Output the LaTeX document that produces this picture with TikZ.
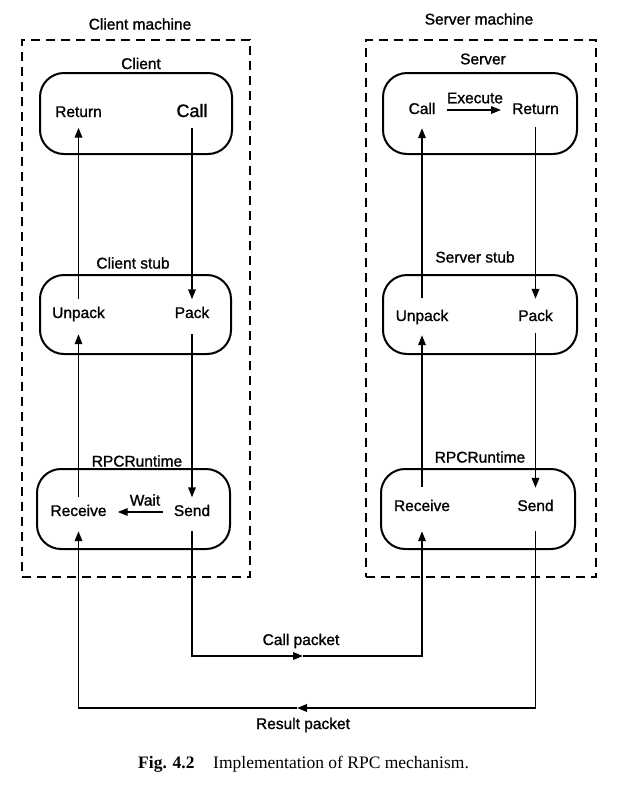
\documentclass[tikz,border=0pt]{standalone}
\usepackage{fontspec}
\setmainfont{Liberation Sans}[FakeBold=1.2]
\newfontfamily\capfont{Liberation Serif}
\usetikzlibrary{arrows.meta}
\begin{document}
\begin{tikzpicture}[x=1pt,y=-1pt,
  lbl/.style={font=\fontsize{15.5}{17}\selectfont, inner xsep=11pt, inner ysep=7.5pt, text height=11pt, text depth=3pt},
  ttl/.style={font=\fontsize{15.5}{17}\selectfont, inner sep=1pt},
  rbox/.style={draw, line width=2pt, rounded corners=24pt, inner sep=0pt},
  mach/.style={draw, line width=2pt, dash pattern=on 9pt off 6pt, inner sep=0pt},
  arr/.style={line width=1.8pt, -{Triangle[length=10pt,width=7.5pt]}},
  lin/.style={line width=1.8pt}]
\useasboundingbox (0,0) rectangle (635,793);

% machines
\node[mach, minimum width=228pt, minimum height=537pt] (cmach) at (136,308.5) {};
\node[mach, minimum width=230pt, minimum height=537pt] (smach) at (481,308.5) {};
\node[ttl] (cmacht) at (140,24) {Client machine};
\node[ttl] (smacht) at (479,19) {Server machine};

% client side boxes
\node[rbox, minimum width=192pt, minimum height=81pt] (cbox) at (136,113.5) {};
\node[rbox, minimum width=191pt, minimum height=79pt] (cstub) at (135.5,314.5) {};
\node[rbox, minimum width=193pt, minimum height=80pt] (crt) at (133.5,509) {};
\node[ttl] (cboxt) at (141,63.5) {Client};
\node[ttl] (cstubt) at (133,263) {Client stub};
\node[ttl] (crtt) at (137,461) {RPCRuntime};

% server side boxes
\node[rbox, minimum width=194pt, minimum height=81pt] (sbox) at (480,113.5) {};
\node[rbox, minimum width=194pt, minimum height=79pt] (sstub) at (480,314.5) {};
\node[rbox, minimum width=194pt, minimum height=80pt] (srt) at (478,509) {};
\node[ttl] (sboxt) at (483,59) {Server};
\node[ttl] (sstubt) at (475,257) {Server stub};
\node[ttl] (srtt) at (480,457) {RPCRuntime};

% client texts
\node[lbl] (retC) at (78.5,113) {Return};
\node[lbl, font=\fontsize{18}{20}\selectfont] (callC) at (192,113) {Call};
\node[lbl] (unpC) at (78.5,314) {Unpack};
\node[lbl] (packC) at (192,314) {Pack};
\node[lbl] (recvC) at (78.5,512) {Receive};
\node[lbl] (sendC) at (192,512) {Send};
\node[ttl] (waitt) at (145,500) {Wait};

% server texts
\node[lbl] (callS) at (422,110) {Call};
\node[lbl] (retS) at (535.5,110) {Return};
\node[ttl] (exect) at (475,98) {Execute};
\node[lbl] (unpS) at (422,317) {Unpack};
\node[lbl] (packS) at (535.5,317) {Pack};
\node[lbl] (recvS) at (422,507) {Receive};
\node[lbl] (sendS) at (535.5,507) {Send};

% client arrows
\draw[arr] (unpC.north) -- (retC.south);
\draw[arr] (callC.south) -- (packC.north);
\draw[arr, shorten >=5.5pt] (recvC.north) -- (unpC.south);
\draw[arr, shorten <=5.5pt] (packC.south) -- (sendC.north);
\draw[arr] (sendC) -- (recvC);

% server arrows
\draw[arr] (callS) -- (retS);
\draw[arr, shorten <=4.5pt, shorten >=3.5pt] (unpS.north) -- (callS.south);
\draw[arr, shorten <=2.5pt, shorten >=3.5pt] (retS.south) -- (packS.north);
\draw[arr, shorten <=5.5pt, shorten >=3.5pt] (recvS.north) -- (unpS.south);
\draw[arr, shorten <=1.5pt, shorten >=4.5pt] (packS.south) -- (sendS.north);

% packets
\coordinate (cpkt) at (303,656);
\coordinate (rpkt) at (297,708);
\draw[arr, shorten <=4.5pt] (sendC.south) |- (cpkt);
\draw[arr, shorten >=9.5pt] (cpkt) -| (recvS.south);
\draw[arr, shorten <=9.5pt] (sendS.south) |- (rpkt);
\draw[arr, shorten >=4.5pt] (rpkt) -| (recvC.south);
\node[ttl] (cpktt) at (301,641) {Call packet};
\node[ttl] (rpktt) at (303,725) {Result packet};

% caption
\node[anchor=base west, inner sep=0pt, font=\capfont\bfseries\fontsize{17.5}{20}\selectfont] (figno) at (138,768) {Fig. 4.2};
\node[anchor=base west, inner sep=0pt, font=\capfont\fontsize{17.5}{20}\selectfont] (figcap) at (213,768) {Implementation of RPC mechanism.};
\end{tikzpicture}
\end{document}
